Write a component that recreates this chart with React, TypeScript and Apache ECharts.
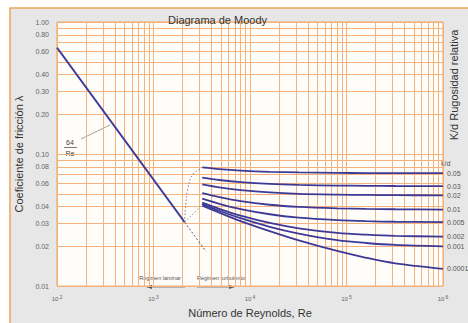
import React, { useEffect, useRef } from "react";
import * as echarts from "echarts";

const xLabelValues = [100, 1000, 10000, 100000, 1000000];
const xGridValues = [
  100, 200, 300, 400, 500, 600, 700, 800, 900,
  1000, 2000, 3000, 4000, 5000, 6000, 7000, 8000, 9000,
  10000, 20000, 30000, 40000, 50000, 60000, 70000, 80000, 90000,
  100000, 200000, 300000, 400000, 500000, 600000, 700000, 800000, 900000,
  1000000,
];
const yLabelValues = [1, 0.8, 0.6, 0.4, 0.3, 0.2, 0.1, 0.08, 0.06, 0.04, 0.03, 0.02, 0.01];
const yGridValues = [
  0.01, 0.02, 0.03, 0.04, 0.05, 0.06, 0.07, 0.08, 0.09,
  0.1, 0.2, 0.3, 0.4, 0.5, 0.6, 0.7, 0.8, 0.9, 1,
];

// laminar 64/Re
const laminarRe = [100, 2100];
const laminarLambda = [0.64, 0.0305];
const laminarExtRe = [2100, 3500];
const laminarExtLambda = [0.0305, 0.0183];
// transition (dotted)
const transARe = [2105, 2156, 2262, 2549, 3158];
const transALambda = [0.0306, 0.0408, 0.0544, 0.0702, 0.0779];
const transBRe = [2105, 2673, 3235];
const transBLambda = [0.0306, 0.0361, 0.0422];

// turbulent curves
const turbRe = [3200, 4800, 8000, 16000, 32000, 80000, 160000, 320000, 1000000];
const roughness = ["0.05", "0.03", "0.02", "0.01", "0.005", "0.002", "0.001", "0.0001"];
const lambda_005 = [0.0794, 0.077, 0.075, 0.0734, 0.0726, 0.072, 0.0718, 0.0717, 0.0716];
const lambda_003 = [0.0662, 0.0636, 0.0613, 0.0594, 0.0584, 0.0577, 0.0575, 0.0573, 0.0572];
const lambda_002 = [0.0589, 0.0559, 0.0534, 0.0512, 0.05, 0.0493, 0.049, 0.0488, 0.0487];
const lambda_001 = [0.0506, 0.0472, 0.044, 0.0413, 0.0398, 0.0388, 0.0384, 0.0382, 0.038];
const lambda_0005 = [0.0459, 0.042, 0.0383, 0.035, 0.033, 0.0316, 0.031, 0.0307, 0.0305];
const lambda_0002 = [0.0428, 0.0385, 0.0342, 0.0301, 0.0274, 0.0253, 0.0245, 0.024, 0.0237];
const lambda_0001 = [0.0417, 0.0372, 0.0327, 0.0281, 0.025, 0.0223, 0.0212, 0.0205, 0.02];
const lambda_00001 = [0.0407, 0.036, 0.0311, 0.0261, 0.0222, 0.01845, 0.01639, 0.01486, 0.01351];
const turbLambdas = [
  lambda_005, lambda_003, lambda_002, lambda_001,
  lambda_0005, lambda_0002, lambda_0001, lambda_00001,
];

const zip = (xs: number[], ys: number[]) => xs.map((x, i) => [x, ys[i]]);

export default function App() {
  const ref = useRef<HTMLDivElement>(null);
  useEffect(() => {
    if (!ref.current) return;
    const chart = echarts.init(ref.current, undefined, { renderer: "svg" });
    const curveColor = "#3c3a96";
    const font = "Liberation Sans, Arial, sans-serif";
    const gridColor = "#f6b27c";
    const turbSeries = roughness.map((r, i) => ({
      type: "line",
      name: r,
      data: zip(turbRe, turbLambdas[i]),
      showSymbol: false,
      symbol: "none",
      smooth: 0.3,
      lineStyle: { color: curveColor, width: 1.8 },
      endLabel: {
        show: true,
        formatter: r,
        color: "#555",
        fontSize: 7,
        fontFamily: font,
        distance: 4,
      },
      z: 5,
    }));
    chart.setOption({
      animation: false,
      backgroundColor: "#ffffff",
      title: {
        text: "Diagrama de Moody",
        left: 163,
        top: 9,
        textStyle: { fontSize: 11, fontWeight: "normal", color: "#333", fontFamily: font },
      },
      grid: {
        left: 57,
        right: 25,
        top: 22,
        bottom: 30,
        show: true,
        backgroundColor: "#fffdfa",
        borderColor: "#f0a050",
        borderWidth: 1,
      },
      xAxis: {
        type: "log",
        logBase: 10,
        min: 100,
        max: 1000000,
        name: "Número de Reynolds, Re",
        nameLocation: "middle",
        nameGap: 18,
        nameTextStyle: { fontSize: 11, color: "#333", fontFamily: font },
        axisLine: { show: false },
        axisTick: { show: false, customValues: xGridValues },
        axisLabel: {
          customValues: xLabelValues,
          margin: 8,
          formatter: (v: number) => {
            const e = String(Math.round(Math.log10(v)));
            return "{b|10}{s|" + e + "}";
          },
          rich: {
            b: { fontSize: 6, color: "#666", fontFamily: font },
            s: { fontSize: 5, color: "#666", fontFamily: font, verticalAlign: "top", padding: [0, 0, 5, 1] },
          },
        },
        splitLine: { show: true, lineStyle: { color: gridColor, width: 1 } },
      },
      yAxis: {
        type: "log",
        logBase: 10,
        min: 0.01,
        max: 1,
        name: "Coeficiente de fricción λ",
        nameLocation: "middle",
        nameGap: 33,
        nameRotate: 90,
        nameTextStyle: { fontSize: 11, color: "#333", fontFamily: font },
        axisLine: { show: false },
        axisTick: { show: false, customValues: yGridValues },
        axisLabel: {
          customValues: yLabelValues,
          margin: 8,
          fontSize: 7,
          color: "#666",
          fontFamily: font,
          formatter: (v: number) => v.toFixed(2),
        },
        splitLine: { show: true, lineStyle: { color: gridColor, width: 1 } },
      },
      graphic: [
        {
          type: "rect",
          z: -10,
          silent: true,
          shape: { x: 10, y: 8, width: 470, height: 330 },
          style: { fill: "#e7e7e7", stroke: "#f2a35a", lineWidth: 1.5 },
        },
        {
          type: "text",
          x: 454,
          y: 85,
          rotation: Math.PI / 2,
          style: {
            text: "K/d Rugosidad relativa",
            fontSize: 11,
            fill: "#333",
            fontFamily: font,
            align: "center",
            verticalAlign: "middle",
          },
        },
        {
          type: "text",
          x: 441,
          y: 163,
          style: { text: "k/d", fontSize: 7, fill: "#555", fontFamily: font, verticalAlign: "middle" },
        },
        {
          type: "text",
          x: 70,
          y: 142,
          style: { text: "64", fontSize: 7, fill: "#444", fontFamily: font, align: "center", verticalAlign: "middle" },
        },
        {
          type: "line",
          shape: { x1: 64, y1: 147.5, x2: 77, y2: 147.5 },
          style: { stroke: "#555", lineWidth: 0.8 },
        },
        {
          type: "text",
          x: 70,
          y: 153,
          style: { text: "Re", fontSize: 7, fill: "#444", fontFamily: font, align: "center", verticalAlign: "middle" },
        },
        {
          type: "line",
          shape: { x1: 81, y1: 139, x2: 110, y2: 125 },
          style: { stroke: "#888", lineWidth: 0.8 },
        },
        {
          type: "text",
          x: 160,
          y: 278,
          style: { text: "Régimen laminar", fontSize: 5.5, fill: "#555", fontFamily: font, align: "center", verticalAlign: "middle" },
        },
        {
          type: "line",
          shape: { x1: 150, y1: 287, x2: 185, y2: 287 },
          style: { stroke: "#555", lineWidth: 0.7 },
        },
        {
          type: "polygon",
          shape: { points: [[146, 287], [152, 285], [152, 289]] },
          style: { fill: "#555" },
        },
        {
          type: "text",
          x: 221,
          y: 278,
          style: { text: "Régimen turbulento", fontSize: 5.5, fill: "#555", fontFamily: font, align: "center", verticalAlign: "middle" },
        },
        {
          type: "line",
          shape: { x1: 197, y1: 287, x2: 231, y2: 287 },
          style: { stroke: "#555", lineWidth: 0.7 },
        },
        {
          type: "polygon",
          shape: { points: [[235, 287], [229, 285], [229, 289]] },
          style: { fill: "#555" },
        },
      ],
      series: [
        {
          type: "line",
          data: zip(laminarRe, laminarLambda),
          showSymbol: false,
          symbol: "none",
          lineStyle: { color: curveColor, width: 1.8 },
          z: 5,
        },
        {
          type: "line",
          data: zip(laminarExtRe, laminarExtLambda),
          showSymbol: false,
          symbol: "none",
          lineStyle: { color: "#556", width: 1, type: [2, 2] },
          z: 5,
        },
        {
          type: "line",
          data: zip(transARe, transALambda),
          showSymbol: false,
          symbol: "none",
          smooth: 0.4,
          lineStyle: { color: "#7a84a0", width: 1, type: [1.5, 2] },
          z: 5,
        },
        {
          type: "line",
          data: zip(transBRe, transBLambda),
          showSymbol: false,
          symbol: "none",
          lineStyle: { color: "#8a94aa", width: 1, type: [1.5, 2] },
          z: 5,
        },
        ...turbSeries,
      ],
    });
    return () => chart.dispose();
  }, []);
  return (
    <div
      ref={ref}
      style={{ position: "absolute", left: 0, top: 0, width: 468, height: 323 }}
    />
  );
}
